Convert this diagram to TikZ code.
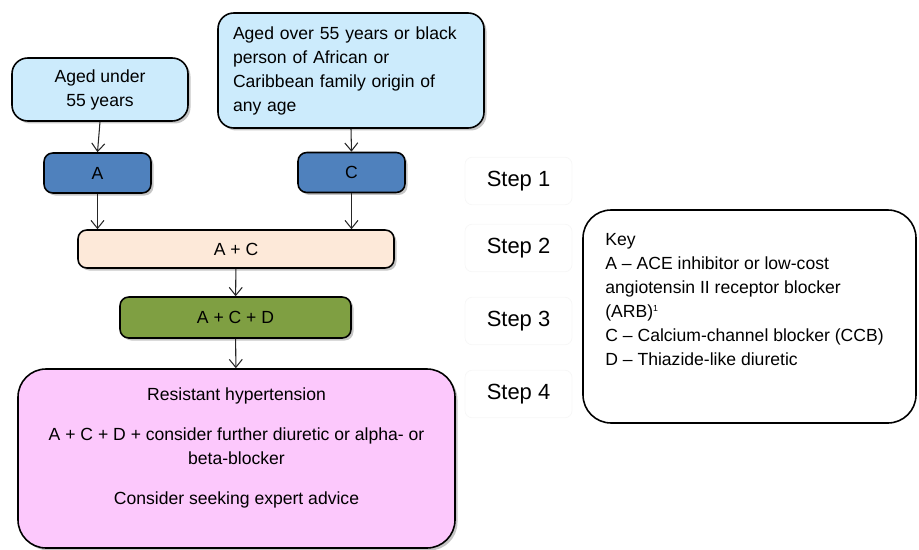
\documentclass[tikz,border=0pt]{standalone}
\usepackage{fontspec}
\setmainfont{Liberation Sans}
\usetikzlibrary{arrows.meta,shadows}
\definecolor{ageAzul}{HTML}{CCEBFC}
\definecolor{drugAzul}{HTML}{4F81BD}
\definecolor{combPeach}{HTML}{FDE9D9}
\definecolor{combVerde}{HTML}{7F9F42}
\definecolor{resRosa}{HTML}{FCC8FC}

\tikzset{
  box/.style={draw, line width=0.9pt, rounded corners=5pt, inner sep=0pt,
    drop shadow={shadow xshift=0.05cm, shadow yshift=-0.05cm, fill=black!45, opacity=0.5},
    font=\fontsize{10}{13.7}\selectfont},
  agebox/.style={box, fill=ageAzul, rounded corners=9pt},
  drugbox/.style={box, fill=drugAzul, minimum width=2.14cm, minimum height=0.8cm},
  steplbl/.style={draw=black!3, fill=white, rounded corners=4pt,
    minimum width=2.14cm, minimum height=0.95cm, font=\fontsize{12.5}{14}\selectfont},
  arr/.style={->, >={Straight Barb[length=1.6mm,width=2.6mm]}, black!85, line width=0.6pt}
}

\begin{document}
\begin{tikzpicture}
  \useasboundingbox (0,0) rectangle (18.38,-11);
  % grupos de edad
  \node[agebox, minimum width=3.52cm, minimum height=1.26cm, align=center]
    (u55) at (2.0,-1.79) {Aged under\\55 years};
  \node[agebox, minimum width=5.32cm, minimum height=2.3cm, text width=4.72cm, align=left]
    (o55) at (7.02,-1.41) {\mbox{}\\[-6pt]Aged over 55 years or black\\person of African or\\Caribbean family origin of\\any age};
  % pasos del tratamiento
  \node[drugbox] (A) at (1.95,-3.46) {A};
  \node[drugbox] (C) at (7.03,-3.45) {C};
  \node[box, fill=combPeach, minimum width=6.32cm, minimum height=0.76cm]
    (AC) at (4.72,-4.98) {A + C};
  \node[box, fill=combVerde, minimum width=4.62cm, minimum height=0.82cm]
    (ACD) at (4.71,-6.35) {A + C + D};
  \node[box, fill=resRosa, rounded corners=16pt, minimum width=8.74cm, minimum height=3.58cm, align=center]
    (res) at (4.73,-9.17) {Resistant hypertension\\[9pt]
      A + C + D + consider further diuretic or alpha- or\\beta-blocker\\[9pt]
      Consider seeking expert advice\\\mbox{}};
  \draw[arr] (u55.south) -- (A.north);
  \draw[arr] (o55.south) -- (C.north);
  \draw[arr] (A.south) -- (A.south |- AC.north);
  \draw[arr] (C.south) -- (C.south |- AC.north);
  \draw[arr] (AC) -- (ACD);
  \draw[arr] (ACD) -- (res);
  % etiquetas de paso
  \foreach \n/\y in {1/-3.62,2/-4.96,3/-6.42,4/-7.88}
    {\node[steplbl] (step\n) at (10.37,\y) {Step \n};}
  % leyenda
  \node[draw, line width=0.9pt, rounded corners=16pt, minimum width=6.66cm, minimum height=4.26cm]
    (key) at (14.99,-6.33) {};
  \node[anchor=north west, inner sep=0pt, align=left, font=\fontsize{10}{13.7}\selectfont]
    (keytxt) at (12.1,-4.66) {Key\\A -- ACE inhibitor or low-cost\\angiotensin II receptor blocker\\(ARB)\textsuperscript{\tiny 1}\\C -- Calcium-channel blocker (CCB)\\D -- Thiazide-like diuretic};
\end{tikzpicture}
\end{document}
